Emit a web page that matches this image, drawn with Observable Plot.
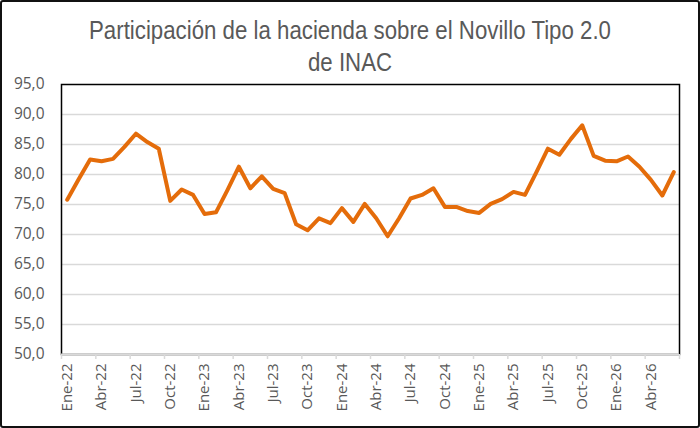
<!DOCTYPE html>
<html>
<head>
<meta charset="utf-8">
<script src="https://cdn.jsdelivr.net/npm/d3@7"></script>
<script src="https://cdn.jsdelivr.net/npm/@observablehq/plot@0.6"></script>
<style>
  html, body { margin: 0; padding: 0; background: #fff; }
  #wrap { position: relative; width: 700px; height: 428px; overflow: hidden; background: #fff; }
  #title {
    position: absolute; left: 0; top: 0; z-index: 2;
    width: 700px; box-sizing: border-box; padding-top: 14px;
    font-family: "Liberation Sans", Arial, sans-serif; font-size: 25px; line-height: 32px;
    color: #595959; text-align: center; transform: scaleX(0.89); transform-origin: 350px 0;
  }
  #chart { position: absolute; left: 0; top: 66px; z-index: 1; }
  #border {
    position: absolute; left: 0; top: 0; width: 700px; height: 428px; box-sizing: border-box; z-index: 3;
    border: 2px solid #111; border-radius: 3px; pointer-events: none;
  }
  svg { display: block; }
</style>
</head>
<body>
<div id="wrap">
  <div id="title">Participación de la hacienda sobre el Novillo Tipo 2.0<br>de INAC</div>
  <div id="chart"></div>
  <div id="border"></div>
</div>
<script>
const months = [
  "Ene-22","Feb-22","Mar-22","Abr-22","May-22","Jun-22","Jul-22","Ago-22","Sep-22","Oct-22","Nov-22","Dic-22",
  "Ene-23","Feb-23","Mar-23","Abr-23","May-23","Jun-23","Jul-23","Ago-23","Sep-23","Oct-23","Nov-23","Dic-23",
  "Ene-24","Feb-24","Mar-24","Abr-24","May-24","Jun-24","Jul-24","Ago-24","Sep-24","Oct-24","Nov-24","Dic-24",
  "Ene-25","Feb-25","Mar-25","Abr-25","May-25","Jun-25","Jul-25","Ago-25","Sep-25","Oct-25","Nov-25","Dic-25",
  "Ene-26","Feb-26","Mar-26","Abr-26","May-26","Jun-26"
];
const values = [
  75.8, 79.2, 82.5, 82.2, 82.6, 84.6, 86.8, 85.4, 84.3, 75.6, 77.5, 76.6,
  73.4, 73.7, 77.4, 81.3, 77.7, 79.7, 77.6, 76.9, 71.7, 70.7, 72.7, 71.9,
  74.4, 72.1, 75.1, 72.7, 69.7, 72.7, 76.0, 76.6, 77.7, 74.6, 74.6, 73.9,
  73.6, 75.1, 75.9, 77.1, 76.6, 80.4, 84.3, 83.3, 85.9, 88.2, 83.1, 82.3,
  82.2, 83.0, 81.3, 79.1, 76.5, 80.4
];
const tickLabels = [
  "Ene-22","Abr-22","Jul-22","Oct-22","Ene-23","Abr-23","Jul-23","Oct-23","Ene-24",
  "Abr-24","Jul-24","Oct-24","Ene-25","Abr-25","Jul-25","Oct-25","Ene-26","Abr-26"
];
const yTicks = [50, 55, 60, 65, 70, 75, 80, 85, 90, 95];

const data = months.map((m, i) => ({pos: i + 0.5, month: m, value: values[i]}));
const labelPos = tickLabels.map(l => months.indexOf(l) + 0.5);
const boundaries = [...tickLabels.map(l => months.indexOf(l)), months.length];
const gridTicks = yTicks.slice(1, -1);

const chart = Plot.plot({
  width: 700,
  height: 362,
  marginTop: 18,
  marginBottom: 74,
  marginLeft: 61,
  marginRight: 21,
  style: {fontFamily: "'Open Sans', sans-serif", fontSize: "15px", color: "#595959", background: "transparent"},
  x: {type: "linear", domain: [0, months.length], label: null},
  y: {domain: [yTicks[0], yTicks[yTicks.length - 1]], label: null},
  marks: [
    Plot.gridY(gridTicks, {stroke: "#d9d9d9", strokeOpacity: 1, strokeWidth: 1.5}),
    Plot.frame({stroke: "#000", strokeWidth: 1.5}),
    Plot.ruleY([yTicks[0]], {stroke: "#d9d9d9", strokeWidth: 2}),
    Plot.axisY(yTicks, {tickSize: 0, tickPadding: 17, fontSize: 15.5, fill: "#595959", label: null,
      tickFormat: d => d.toFixed(1).replace(".", ",")}),
    Plot.axisX(boundaries, {tickSize: 5, tickFormat: () => "", stroke: "#d9d9d9", strokeWidth: 1.5, label: null}),
    Plot.axisX(labelPos, {tickSize: 0, tickPadding: 9, tickRotate: -90, fill: "#595959", fontSize: 15, label: null,
      tickFormat: d => months[Math.round(d - 0.5)]}),
    Plot.line(data, {x: "pos", y: "value", stroke: "#E46C0A", strokeWidth: 4,
      strokeLinejoin: "round", strokeLinecap: "round"})
  ]
});
document.getElementById("chart").appendChild(chart);
</script>
</body>
</html>
